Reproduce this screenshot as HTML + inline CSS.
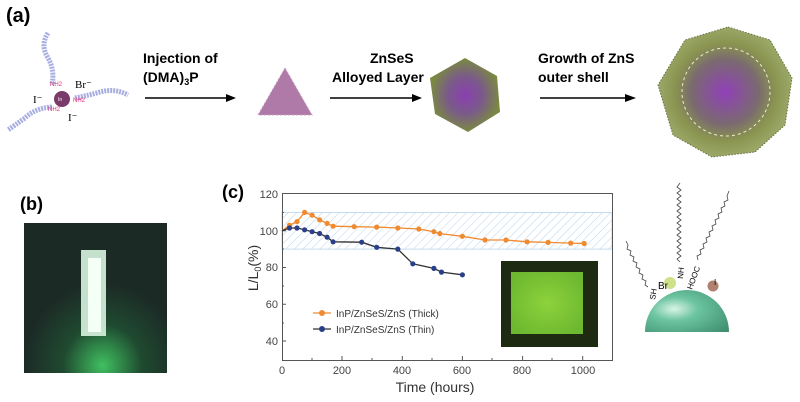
<!DOCTYPE html>
<html><head><meta charset="utf-8"><style>
html,body{margin:0;padding:0;background:#fff;}
svg{display:block;font-family:"Liberation Sans",sans-serif;}
</style></head><body>
<svg width="800" height="402" viewBox="0 0 800 402">
<defs>
<pattern id="hatch" width="6" height="6" patternUnits="userSpaceOnUse" patternTransform="rotate(45)">
<line x1="0" y1="0" x2="0" y2="6" stroke="#b8d4ec" stroke-width="1"/></pattern>
<radialGradient id="sph" cx="50%" cy="50%" r="50%"><stop offset="0" stop-color="#8a3fb0"/><stop offset="0.5" stop-color="#7a5a8a"/><stop offset="1" stop-color="#7a8a40"/></radialGradient>
<radialGradient id="big" cx="50%" cy="50%" r="50%"><stop offset="0" stop-color="#9040b8"/><stop offset="0.5" stop-color="#7a6a70"/><stop offset="0.75" stop-color="#8a9450"/><stop offset="1" stop-color="#9aa868"/></radialGradient>
<radialGradient id="glow" cx="55%" cy="95%" r="55%"><stop offset="0" stop-color="#40c060"/><stop offset="0.5" stop-color="#1f4a30"/><stop offset="1" stop-color="#1c2a26"/></radialGradient>
<radialGradient id="hemi" cx="35%" cy="45%" r="80%"><stop offset="0" stop-color="#d8f4e6"/><stop offset="0.35" stop-color="#6cc4a0"/><stop offset="1" stop-color="#3f8f70"/></radialGradient>
<radialGradient id="inset" cx="50%" cy="50%" r="60%"><stop offset="0" stop-color="#8ed23c"/><stop offset="1" stop-color="#6cb830"/></radialGradient>
</defs>
<!-- panel a -->
<text x="6" y="22" font-size="20" font-weight="bold">(a)</text>
<path d="M48 33 Q40 45 48 58 Q55 70 52 85" stroke="#a8aee0" stroke-width="5" fill="none" stroke-dasharray="2 1"/>
<path d="M75 98 Q90 95 100 92 Q115 88 128 95" stroke="#a8aee0" stroke-width="5" fill="none" stroke-dasharray="2 1"/>
<path d="M52 107 Q35 108 25 118 Q15 125 8 130" stroke="#a8aee0" stroke-width="5" fill="none" stroke-dasharray="2 1"/>
<circle cx="62" cy="99" r="8" fill="#7a3a6a"/>
<text x="58" y="101" font-size="5" fill="#fff">In</text>
<text x="50" y="86" font-size="6" fill="#e0307a">NH2</text>
<text x="73" y="102" font-size="6" fill="#e0307a">NH2</text>
<text x="48" y="111" font-size="6" fill="#e0307a">NH2</text>
<text x="75" y="88" font-size="11" font-family="Liberation Serif">Br⁻</text>
<text x="33" y="103" font-size="11" font-family="Liberation Serif">I⁻</text>
<text x="68" y="121" font-size="11" font-family="Liberation Serif">I⁻</text>
<text x="143" y="63" font-size="14" font-weight="bold">Injection of</text>
<text x="143" y="82" font-size="14" font-weight="bold">(DMA)<tspan font-size="9" dy="3">3</tspan><tspan dy="-3">P</tspan></text>
<line x1="145" y1="98" x2="228" y2="98" stroke="#000" stroke-width="1.5"/><path d="M236 98 L226 94 L226 102Z"/>
<path d="M285 68 L258 115 L312 115Z" fill="#b07aa8" stroke="#c0a0c0" stroke-dasharray="2 2"/>
<text x="370" y="63" font-size="14" font-weight="bold">ZnSeS</text>
<text x="332" y="82" font-size="14" font-weight="bold">Alloyed Layer</text>
<line x1="330" y1="98" x2="414" y2="98" stroke="#000" stroke-width="1.5"/><path d="M422 98 L412 94 L412 102Z"/>
<path d="M465 58 L497 76 L500 112 L468 132 L435 114 L430 78Z" fill="url(#sph)"/>
<text x="538" y="63" font-size="14" font-weight="bold">Growth of ZnS</text>
<text x="538" y="82" font-size="14" font-weight="bold">outer shell</text>
<line x1="540" y1="98" x2="627" y2="98" stroke="#000" stroke-width="1.5"/><path d="M636 98 L625 94 L625 102Z"/>
<path d="M728 27 L770 40 L792 78 L785 125 L755 152 L712 157 L673 135 L658 85 L685 40Z" fill="url(#big)" stroke="#6a7040" stroke-dasharray="1.5 1.5"/>
<circle cx="726" cy="92" r="44" fill="none" stroke="#e8f0c0" stroke-dasharray="3 3"/>
<!-- panel b -->
<text x="20" y="210" font-size="18" font-weight="bold">(b)</text>
<rect x="24" y="223" width="143" height="150" fill="url(#glow)"/>
<rect x="81" y="250" width="25" height="86" fill="#d8f4e0" opacity="0.9"/>
<rect x="88" y="258" width="13" height="74" fill="#f4fff6"/>
<!-- panel c -->
<text x="222" y="198" font-size="18" font-weight="bold">(c)</text>
<rect x="282" y="212.4" width="330" height="36.7" fill="url(#hatch)" stroke="#b8d4ec" stroke-width="0.8"/>
<rect x="282.5" y="193.5" width="330" height="167" fill="none" stroke="#555"/>
<g stroke="#555">
<line x1="282" y1="230.75" x2="286" y2="230.75"/><line x1="282" y1="267.5" x2="286" y2="267.5"/><line x1="282" y1="304.25" x2="286" y2="304.25"/><line x1="282" y1="341" x2="286" y2="341"/>
<line x1="282" y1="212.4" x2="284" y2="212.4"/><line x1="282" y1="249" x2="284" y2="249"/><line x1="282" y1="286" x2="284" y2="286"/><line x1="282" y1="323" x2="284" y2="323"/>
<line x1="342" y1="360" x2="342" y2="356"/><line x1="402.3" y1="360" x2="402.3" y2="356"/><line x1="462.4" y1="360" x2="462.4" y2="356"/><line x1="522.6" y1="360" x2="522.6" y2="356"/><line x1="582.7" y1="360" x2="582.7" y2="356"/>
<line x1="312" y1="360" x2="312" y2="358"/><line x1="372" y1="360" x2="372" y2="358"/><line x1="432" y1="360" x2="432" y2="358"/><line x1="492" y1="360" x2="492" y2="358"/><line x1="552" y1="360" x2="552" y2="358"/>
</g>
<g font-size="11" fill="#444" text-anchor="end">
<text x="278" y="198">120</text><text x="278" y="235">100</text><text x="278" y="271">80</text><text x="278" y="308">60</text><text x="278" y="345">40</text></g>
<g font-size="11" fill="#444" text-anchor="middle">
<text x="282" y="374">0</text><text x="342" y="374">200</text><text x="402" y="374">400</text><text x="462" y="374">600</text><text x="522" y="374">800</text><text x="583" y="374">1000</text></g>
<text x="435" y="392" font-size="14" fill="#333" text-anchor="middle">Time (hours)</text>
<text transform="translate(258,268) rotate(-90)" font-size="14" fill="#333" text-anchor="middle">L/L<tspan font-size="9" dy="3">0</tspan><tspan dy="-3">(%)</tspan></text>
<rect x="501" y="261" width="97" height="86" fill="#1e2a12"/>
<rect x="511" y="272" width="72" height="62" fill="url(#inset)"/>
<polyline fill="none" stroke="#f08a30" stroke-width="1.3" points="282,230.75 289.5,225.2 297,221.6 304.6,212.4 312.1,215.2 319.6,219.8 327.1,223.4 333.1,226.2 354.2,226.7 376.7,227.1 397.8,228 418.8,229 433.9,231.7 439.9,233.6 462.4,236.3 485,240 506,240 527,241.8 548.1,242.4 570.7,243.1 584.2,243.5"/>
<g fill="#f08a30"><circle cx="289.5" cy="225.2" r="2.6"/><circle cx="297" cy="221.6" r="2.6"/><circle cx="304.6" cy="212.4" r="2.6"/><circle cx="312.1" cy="215.2" r="2.6"/><circle cx="319.6" cy="219.8" r="2.6"/><circle cx="327.1" cy="223.4" r="2.6"/><circle cx="333.1" cy="226.2" r="2.6"/><circle cx="354.2" cy="226.7" r="2.6"/><circle cx="376.7" cy="227.1" r="2.6"/><circle cx="397.8" cy="228" r="2.6"/><circle cx="418.8" cy="229" r="2.6"/><circle cx="433.9" cy="231.7" r="2.6"/><circle cx="439.9" cy="233.6" r="2.6"/><circle cx="462.4" cy="236.3" r="2.6"/><circle cx="485" cy="240" r="2.6"/><circle cx="506" cy="240" r="2.6"/><circle cx="527" cy="241.8" r="2.6"/><circle cx="548.1" cy="242.4" r="2.6"/><circle cx="570.7" cy="243.1" r="2.6"/><circle cx="584.2" cy="243.5" r="2.6"/></g>
<polyline fill="none" stroke="#333" stroke-width="1.3" points="282,230.75 289.5,228 297,228 304.6,229.8 312.1,231.7 319.6,233.5 327.1,237.2 333.1,241.8 361.7,242.2 376.7,247.3 397.8,249.1 412.8,263.8 433.9,268.4 441.5,272.1 462.4,274.8"/>
<g fill="#2a3f8a"><circle cx="289.5" cy="228" r="2.6"/><circle cx="297" cy="228" r="2.6"/><circle cx="304.6" cy="229.8" r="2.6"/><circle cx="312.1" cy="231.7" r="2.6"/><circle cx="319.6" cy="233.5" r="2.6"/><circle cx="327.1" cy="237.2" r="2.6"/><circle cx="333.1" cy="241.8" r="2.6"/><circle cx="361.7" cy="242.2" r="2.6"/><circle cx="376.7" cy="247.3" r="2.6"/><circle cx="397.8" cy="249.1" r="2.6"/><circle cx="412.8" cy="263.8" r="2.6"/><circle cx="433.9" cy="268.4" r="2.6"/><circle cx="441.5" cy="272.1" r="2.6"/><circle cx="462.4" cy="274.8" r="2.6"/></g>
<line x1="313" y1="313" x2="331" y2="313" stroke="#f08a30" stroke-width="1.3"/><circle cx="322" cy="313" r="3" fill="#f08a30"/>
<line x1="313" y1="329" x2="331" y2="329" stroke="#333" stroke-width="1.3"/><circle cx="322" cy="329" r="3" fill="#2a3f8a"/>
<text x="336" y="317" font-size="10" fill="#333">InP/ZnSeS/ZnS (Thick)</text>
<text x="336" y="333" font-size="10" fill="#333">InP/ZnSeS/ZnS (Thin)</text>
<!-- right diagram -->
<path d="M645 332 A42 42 0 0 1 729 332 Z" fill="url(#hemi)"/>
<circle cx="670" cy="283" r="6" fill="#cfe08a"/>
<circle cx="713" cy="286" r="5.5" fill="#b08070"/>
<polyline points="648,287 645,285 646,281 642,279 643,275 639,273 640,269 636,267 637,263 633,261 634,257 630,255 631,251 627,249 628,245 626,241" stroke="#444" fill="none" stroke-width="0.8"/>
<polyline points="680,262 677,259 681,256 677,253 681,250 677,247 681,244 677,241 681,238 677,235 681,232 677,229 681,226 677,223 681,220 677,217 681,214 677,211 681,208 677,205 681,202 677,199 681,196 677,193 681,190 677,187 680,183" stroke="#444" fill="none" stroke-width="0.8"/>
<polyline points="698,260 697,256 701,254 700,250 704,248 703,244 707,242 706,238 710,236 709,232 713,230 712,226 716,224 715,220 719,218 718,214 722,212 721,208 725,206 724,202 728,200 727,196 729,191" stroke="#444" fill="none" stroke-width="0.8"/>
<text x="658" y="289" font-size="10">Br</text>
<text transform="translate(655,300) rotate(-80)" font-size="8">SH</text>
<text transform="translate(683,279) rotate(-85)" font-size="8">NH</text>
<text transform="translate(692,290) rotate(-70)" font-size="8">HOOC</text>
<text x="714" y="285" font-size="8">I</text>
</svg>
</body></html>
